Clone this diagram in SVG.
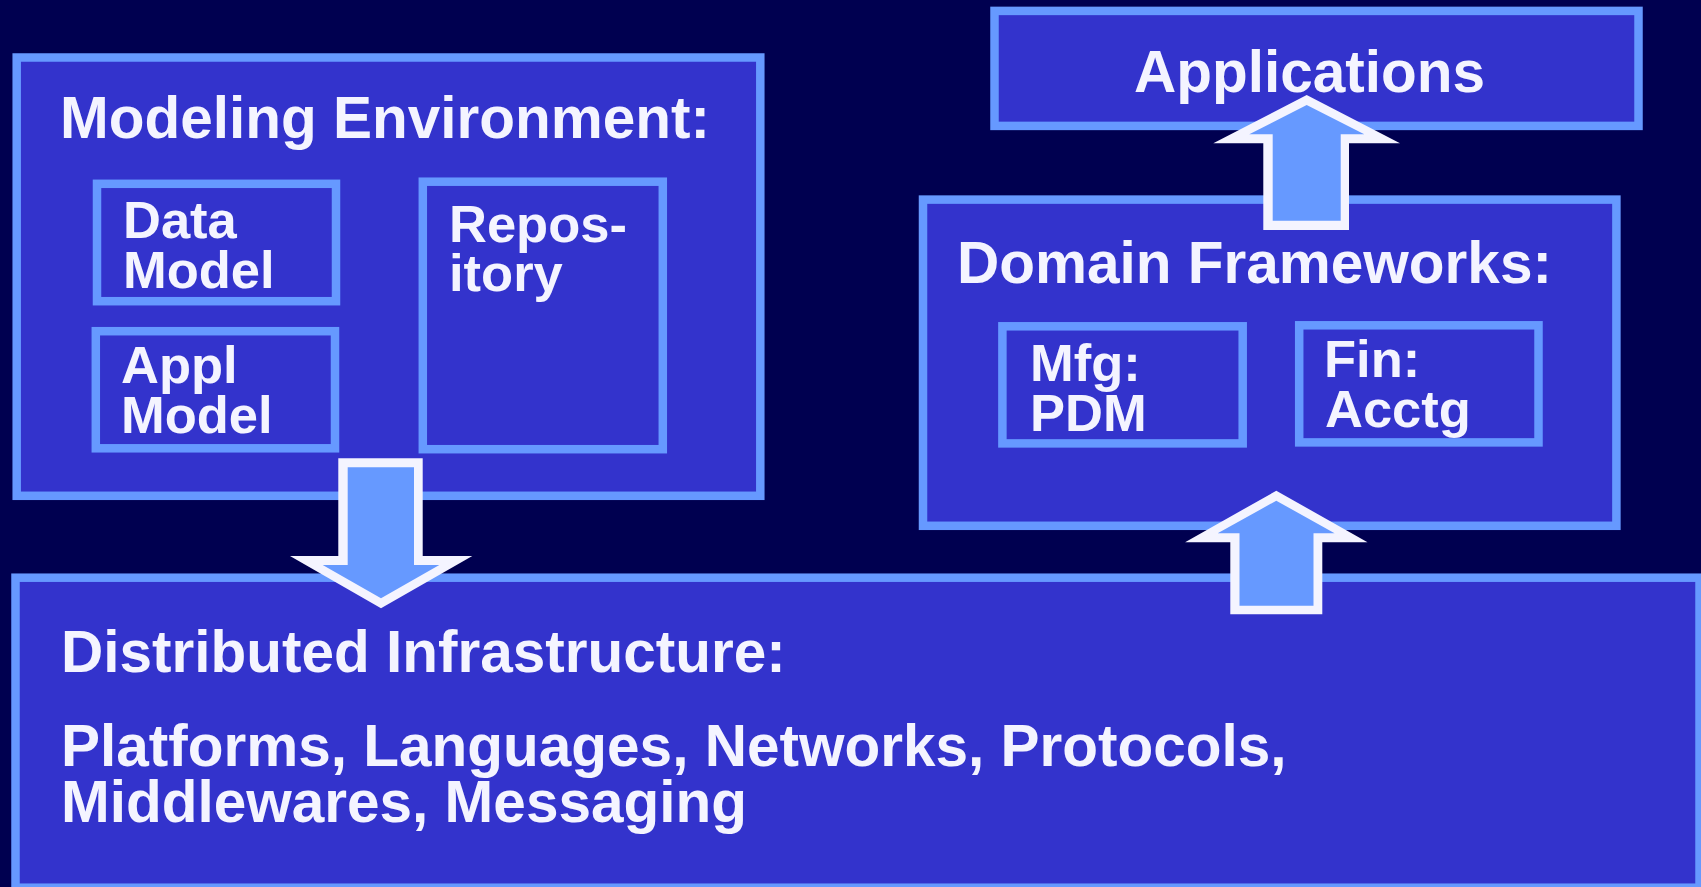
<svg xmlns="http://www.w3.org/2000/svg" width="1701" height="887" viewBox="0 0 1701 887">
  <style>
    .box { fill: #3333cc; stroke: #6699ff; stroke-width: 8.5; }
    .lbl { font-family: "Liberation Sans", Arial, Helvetica, sans-serif; font-weight: bold; fill: #f4f4ff; }
    .big { font-size: 58.5px; }
    .small { font-size: 52.5px; }
    .arrow-edge { fill: #f4f4ff; }
    .arrow-body { fill: #6699ff; }
  </style>

  <rect x="0" y="0" width="1701" height="887" fill="#000050"/>

  <!-- Modeling environment and its parts -->
  <g id="modeling-environment">
    <rect class="box" x="16.7" y="57.5" width="743.6" height="438.3"/>
    <text class="lbl big" x="60" y="138.3">Modeling Environment:</text>
  </g>
  <g id="data-model">
    <rect class="box" x="97" y="183.8" width="239" height="117.4"/>
    <text class="lbl small" x="123" y="238.3">Data</text>
    <text class="lbl small" x="123" y="288.3">Model</text>
  </g>
  <g id="appl-model">
    <rect class="box" x="95.8" y="331.2" width="239.2" height="117.1"/>
    <text class="lbl small" x="121" y="383.3">Appl</text>
    <text class="lbl small" x="121" y="433.3">Model</text>
  </g>
  <g id="repository">
    <rect class="box" x="422.8" y="181.7" width="240" height="267.5"/>
    <text class="lbl small" x="449" y="241.7">Repos-</text>
    <text class="lbl small" x="449" y="291.2">itory</text>
  </g>

  <!-- Applications -->
  <g id="applications">
    <rect class="box" x="994.5" y="10.9" width="644" height="115"/>
    <text class="lbl big" x="1134" y="92.3">Applications</text>
  </g>

  <!-- Domain frameworks and its parts -->
  <g id="domain-frameworks">
    <rect class="box" x="923" y="199.6" width="693.4" height="326.2"/>
    <text class="lbl big" x="957" y="283.1">Domain Frameworks:</text>
  </g>
  <g id="mfg-pdm">
    <rect class="box" x="1002.4" y="326.3" width="240.3" height="117.1"/>
    <text class="lbl small" x="1030" y="380.6">Mfg:</text>
    <text class="lbl small" x="1030" y="430.5">PDM</text>
  </g>
  <g id="fin-acctg">
    <rect class="box" x="1299.2" y="325.3" width="239.3" height="117.1"/>
    <text class="lbl small" x="1324" y="377.1">Fin:</text>
    <text class="lbl small" x="1325" y="427.1">Acctg</text>
  </g>

  <!-- Distributed infrastructure -->
  <g id="distributed-infrastructure">
    <rect class="box" x="15.5" y="577.7" width="1684" height="310"/>
    <text class="lbl big" x="61" y="671.7">Distributed Infrastructure:</text>
    <text class="lbl big" x="61" y="766">Platforms, Languages, Networks, Protocols,</text>
    <text class="lbl big" x="61" y="821.7">Middlewares, Messaging</text>
  </g>

  <!-- Block arrows between layers -->
  <g id="connectors">
    <g id="modeling-to-infrastructure">
      <polygon class="arrow-edge" points="338.3,458.3 422.7,458.3 422.7,556 472.3,556 381,608.3 290,556 338.3,556"/>
      <polygon class="arrow-body" points="347.7,467.3 414,467.3 414,565 439.3,565 381,598.3 322.7,565 347.7,565"/>
    </g>
    <g id="frameworks-to-applications">
      <polygon class="arrow-edge" points="1306.7,95 1400,143.3 1349,143.3 1349,230 1263.3,230 1263.3,143.3 1213.3,143.3"/>
      <polygon class="arrow-body" points="1306.7,105 1364.3,134.3 1340.7,134.3 1340.7,220.7 1272.7,220.7 1272.7,134.3 1249.3,134.3"/>
    </g>
    <g id="infrastructure-to-frameworks">
      <polygon class="arrow-edge" points="1276.3,490.7 1367.5,542.3 1322.3,542.3 1322.3,614.3 1230.3,614.3 1230.3,542.3 1185.1,542.3"/>
      <polygon class="arrow-body" points="1276.3,500.7 1334.6,533.3 1313.5,533.3 1313.5,605.7 1239.5,605.7 1239.5,533.3 1217.7,533.3"/>
    </g>
  </g>
</svg>
